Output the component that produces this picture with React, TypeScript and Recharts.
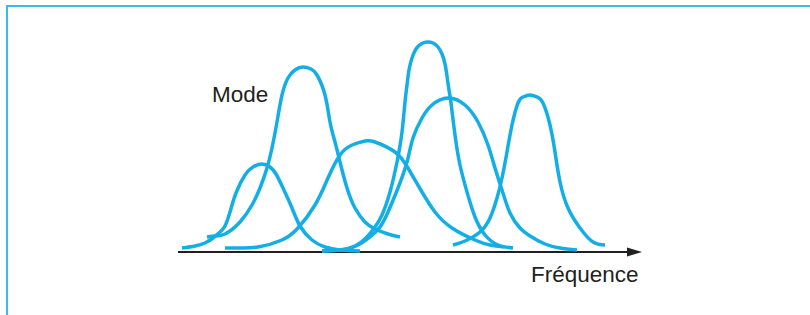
import React from 'react';
import { LineChart, Line, XAxis, YAxis, ReferenceLine, ReferenceDot } from 'recharts';

// Each curve: [frequency position, density] pairs
const curveSmall: [number, number][] = [
  [2.4, 2], [5, 3], [7, 4.5], [8.6, 7], [10, 10], [11, 13], [12, 20], [13.2, 29.5],
  [15, 38.5], [16.6, 42.5], [18.4, 44], [20, 42.5], [21.2, 39], [22.6, 32], [24.4, 22],
  [26, 13], [28.4, 6], [31, 2.5], [34, 1], [38, 0.5],
];
const curveTall: [number, number][] = [
  [7.4, 7.5], [9, 8], [11, 9], [14, 15], [16.4, 23.5], [18, 32], [19.4, 42], [20.4, 52],
  [21.4, 65], [22.4, 78.5], [23.6, 87], [25, 91], [26.6, 92.5], [28.2, 91.5], [29.4, 88.5],
  [31, 78.5], [32, 65], [33, 55], [34, 45], [35.4, 32], [37, 22], [39, 15], [41, 11.5],
  [43.6, 9], [46, 7.5],
];
const curveWide: [number, number][] = [
  [11, 2], [14, 2], [17.6, 2.5], [22.4, 6], [25.6, 12], [29, 23.5], [31.6, 37], [34, 48.5],
  [36.4, 53.5], [39, 55.5], [41, 55], [45, 50], [47.6, 42], [50.4, 30], [53, 20],
  [56.4, 12], [61, 6], [64, 3.5], [67, 2.5],
];
const curvePeak: [number, number][] = [
  [30.4, 0.5], [34, 1], [37, 3], [39.2, 7], [41, 12.5], [42.4, 18.5], [44, 30], [45.4, 45],
  [46.4, 60], [47, 75], [47.4, 83.5], [47.8, 91], [48.4, 97], [49.2, 101.5], [50.2, 104],
  [51.4, 105], [52.6, 104.5], [53.6, 102.5], [54.4, 99], [55, 94], [55.4, 88], [55.8, 81],
  [56.2, 74.5], [57, 58.5], [58, 43.5], [59.4, 30], [61, 17.5], [63, 8.5], [65.6, 3.5], [68.6, 2],
];
const curveSkew: [number, number][] = [
  [30.4, 0.5], [34, 1], [37.2, 3], [40, 7.5], [42, 12.5], [43.6, 20], [45.6, 32], [47.4, 45],
  [48.6, 57], [50.4, 67], [52.4, 73.5], [55.6, 77], [59, 73.5], [61.6, 65], [63.6, 53.5],
  [65, 42], [66.4, 31], [68, 19.5], [70, 12], [72, 8], [75, 4], [78, 2], [81.4, 1],
];
const curveRight: [number, number][] = [
  [56.6, 3.5], [59, 5.5], [62, 10], [64, 17], [65.4, 27], [66.4, 37], [67.4, 50], [68.4, 63.5],
  [69.6, 74.5], [70.6, 77.5], [72, 78.5], [73.4, 77.5], [74.6, 74.5], [76, 63.5], [77, 50],
  [78, 35], [79.6, 22], [82, 12], [84.6, 5], [87, 3.5],
];
const curves = [curveSmall, curveTall, curveWide, curvePeak, curveSkew, curveRight];

const axisStart = 1.6;
const axisEnd = 94.4;
const modeLabel = 'Mode';
const axisLabel = 'Fréquence';

const BLUE = '#14aee6';
const INK = '#231f20';

const toPoints = (c: [number, number][]) => c.map(([f, d]) => ({ f, d }));

const Arrow = (props: any) => {
  const { cx, cy } = props;
  return <polygon points={`${cx},${cy} ${cx - 15},${cy - 4.5} ${cx - 15},${cy + 4.5}`} fill={INK} />;
};

export default function App() {
  return (
    <div style={{ position: 'absolute', left: 0, top: 0, width: 810, height: 315, background: '#fff' }}>
      <div
        style={{
          position: 'absolute', left: 6, top: 5, width: 804, height: 310,
          borderLeft: '2px solid #3bbbec', borderTop: '2px solid #3bbbec',
        }}
      />
      <div style={{ position: 'absolute', left: 0, top: 0 }}>
        <LineChart width={810} height={315} margin={{ top: 12, right: 40, bottom: 63, left: 170 }}>
          <XAxis type="number" dataKey="f" domain={[0, 120]} hide />
          <YAxis type="number" domain={[0, 120]} hide />
          <ReferenceLine
            segment={[{ x: axisStart, y: 0 }, { x: axisEnd - 2, y: 0 }]}
            stroke={INK}
            strokeWidth={2}
          />
          <ReferenceDot x={axisEnd} y={0} r={0} shape={<Arrow />} />
          {curves.map((c, i) => (
            <Line
              key={i}
              data={toPoints(c)}
              dataKey="d"
              type="natural"
              stroke={BLUE}
              strokeWidth={3.5}
              dot={false}
              activeDot={false}
              isAnimationActive={false}
            />
          ))}
        </LineChart>
      </div>
      <svg width={810} height={315} style={{ position: 'absolute', left: 0, top: 0 }}>
        <text x={212} y={102} fontFamily="Liberation Sans, Arial, sans-serif" fontSize={22.5} fill={INK}>
          {modeLabel}
        </text>
        <text x={531} y={282} fontFamily="Liberation Sans, Arial, sans-serif" fontSize={22.5} fill={INK}>
          {axisLabel}
        </text>
      </svg>
    </div>
  );
}
